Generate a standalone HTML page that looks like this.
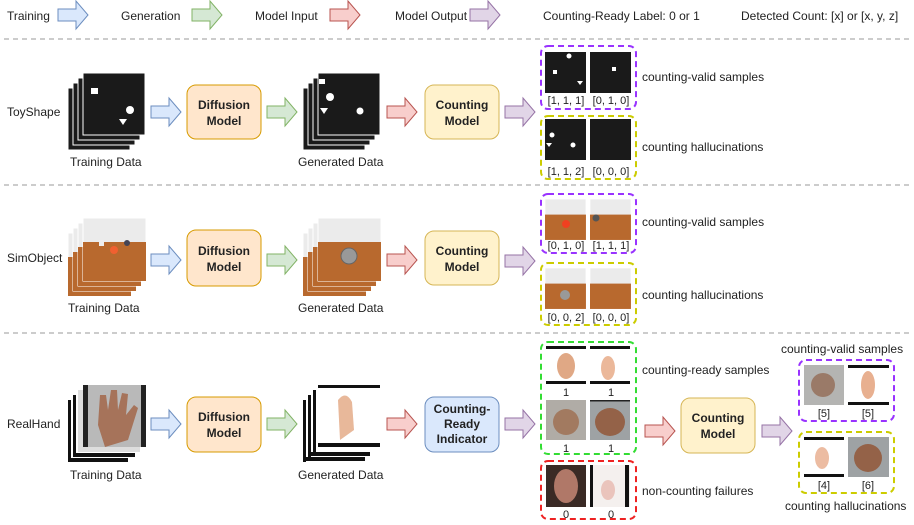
<!DOCTYPE html>
<html><head><meta charset="utf-8"><style>
html,body{margin:0;padding:0;background:#fff;}
svg{display:block;font-family:"Liberation Sans",sans-serif;}
.t{font-size:12px;fill:#222;}
.b{font-size:12px;font-weight:bold;fill:#222;text-anchor:middle;}
.c{font-size:11px;fill:#222;text-anchor:middle;}
</style></head><body>
<svg width="914" height="525" viewBox="0 0 914 525" xmlns="http://www.w3.org/2000/svg">
<defs>
<polygon id="ar" points="0,-6 18,-6 18,-14 30,0 18,14 18,6 0,6"/>
<g id="toy"><rect width="62" height="62" fill="#1a1a1a" stroke="#fff" stroke-width="1"/></g>
<g id="sim"><rect width="63" height="63" fill="#ebebeb" stroke="#fff"/><rect y="24" width="63" height="39" fill="#b8692e"/></g>
</defs>
<rect width="914" height="525" fill="#fff"/>
<!-- legend -->
<text class="t" x="7" y="20">Training</text>
<use href="#ar" x="58" y="15" fill="#dae8fc" stroke="#6c8ebf"/>
<text class="t" x="121" y="20">Generation</text>
<use href="#ar" x="192" y="15" fill="#d5e8d4" stroke="#82b366"/>
<text class="t" x="255" y="20">Model Input</text>
<use href="#ar" x="330" y="15" fill="#f8cecc" stroke="#b85450"/>
<text class="t" x="395" y="20">Model Output</text>
<use href="#ar" x="470" y="15" fill="#e1d5e7" stroke="#9673a6"/>
<text class="t" x="543" y="20">Counting-Ready Label: 0 or 1</text>
<text class="t" x="741" y="20">Detected Count: [x] or [x, y, z]</text>
<g stroke="#999" stroke-dasharray="5,4" stroke-width="1">
<line x1="4" y1="39" x2="910" y2="39"/><line x1="4" y1="185" x2="910" y2="185"/><line x1="4" y1="333" x2="910" y2="333"/>
</g>

<!-- Row 1 -->
<text class="t" x="7" y="116">ToyShape</text>
<use href="#toy" x="68" y="88"/><use href="#toy" x="73" y="83"/><use href="#toy" x="78" y="78"/><use href="#toy" x="83" y="73"/>
<rect x="91" y="88" width="7" height="6" fill="#fff"/><circle cx="130" cy="110" r="4" fill="#fff"/><polygon points="119,119 127,119 123,125" fill="#fff"/>
<text class="t" x="70" y="166">Training Data</text>
<use href="#ar" x="151" y="112" fill="#dae8fc" stroke="#6c8ebf"/>
<rect x="187" y="85" width="74" height="54" rx="9" fill="#ffe6cc" stroke="#d79b00"/>
<text class="b" x="224" y="109">Diffusion</text><text class="b" x="224" y="125">Model</text>
<use href="#ar" x="267" y="112" fill="#d5e8d4" stroke="#82b366"/>
<use href="#toy" x="303" y="88"/><use href="#toy" x="308" y="83"/><use href="#toy" x="313" y="78"/><use href="#toy" x="318" y="73"/>
<rect x="319" y="79" width="6" height="5" fill="#fff"/><circle cx="330" cy="97" r="4" fill="#fff"/><circle cx="360" cy="111" r="3.5" fill="#fff"/><polygon points="320,108 328,108 324,114" fill="#fff"/>
<text class="t" x="298" y="166">Generated Data</text>
<use href="#ar" x="387" y="112" fill="#f8cecc" stroke="#b85450"/>
<rect x="425" y="85" width="74" height="54" rx="9" fill="#fff2cc" stroke="#d6b656"/>
<text class="b" x="462" y="109">Counting</text><text class="b" x="462" y="125">Model</text>
<use href="#ar" x="505" y="112" fill="#e1d5e7" stroke="#9673a6"/>
<rect x="541" y="46" width="95" height="63" rx="7" fill="none" stroke="#9933ff" stroke-width="2" stroke-dasharray="6,4"/>
<rect x="545" y="52" width="41" height="41" fill="#1a1a1a"/><rect x="590" y="52" width="41" height="41" fill="#1a1a1a"/>
<circle cx="569" cy="56" r="2.5" fill="#fff"/><rect x="553" y="70" width="4" height="4" fill="#fff"/><polygon points="577,81 583,81 580,85" fill="#fff"/><rect x="612" y="67" width="4" height="4" fill="#fff"/>
<text class="c" x="566" y="104">[1, 1, 1]</text><text class="c" x="611" y="104">[0, 1, 0]</text>
<text class="t" x="642" y="81">counting-valid samples</text>
<rect x="541" y="116" width="95" height="63" rx="7" fill="none" stroke="#cccc00" stroke-width="2" stroke-dasharray="6,4"/>
<rect x="545" y="119" width="41" height="41" fill="#1a1a1a"/><rect x="590" y="119" width="41" height="41" fill="#1a1a1a"/>
<circle cx="552" cy="135" r="2.5" fill="#fff"/><circle cx="573" cy="145" r="2.5" fill="#fff"/><polygon points="546,143 552,143 549,147" fill="#fff"/>
<text class="c" x="566" y="175">[1, 1, 2]</text><text class="c" x="611" y="175">[0, 0, 0]</text>
<text class="t" x="642" y="151">counting hallucinations</text>

<!-- Row 2 -->
<text class="t" x="7" y="262">SimObject</text>
<use href="#sim" x="68" y="233"/><use href="#sim" x="73" y="228"/><use href="#sim" x="78" y="223"/><use href="#sim" x="83" y="218"/>
<circle cx="114" cy="250" r="4" fill="#f06030"/><circle cx="127" cy="243" r="3" fill="#445"/><rect x="99" y="240" width="5" height="6" fill="#eee"/>
<text class="t" x="68" y="312">Training Data</text>
<use href="#ar" x="151" y="260" fill="#dae8fc" stroke="#6c8ebf"/>
<rect x="187" y="230" width="74" height="56" rx="9" fill="#ffe6cc" stroke="#d79b00"/>
<text class="b" x="224" y="255">Diffusion</text><text class="b" x="224" y="271">Model</text>
<use href="#ar" x="267" y="260" fill="#d5e8d4" stroke="#82b366"/>
<use href="#sim" x="303" y="233"/><use href="#sim" x="308" y="228"/><use href="#sim" x="313" y="223"/><use href="#sim" x="318" y="218"/>
<circle cx="349" cy="256" r="8" fill="#999" stroke="#666"/>
<text class="t" x="298" y="312">Generated Data</text>
<use href="#ar" x="387" y="260" fill="#f8cecc" stroke="#b85450"/>
<rect x="425" y="231" width="74" height="54" rx="9" fill="#fff2cc" stroke="#d6b656"/>
<text class="b" x="462" y="255">Counting</text><text class="b" x="462" y="271">Model</text>
<use href="#ar" x="505" y="261" fill="#e1d5e7" stroke="#9673a6"/>
<rect x="541" y="194" width="95" height="59" rx="7" fill="none" stroke="#9933ff" stroke-width="2" stroke-dasharray="6,4"/>
<g transform="translate(545,199) scale(0.65)"><use href="#sim"/></g><g transform="translate(590,199) scale(0.65)"><use href="#sim"/></g>
<circle cx="566" cy="224" r="4" fill="#f04020"/><circle cx="596" cy="218" r="3.5" fill="#555"/>
<text class="c" x="566" y="249">[0, 1, 0]</text><text class="c" x="611" y="249">[1, 1, 1]</text>
<text class="t" x="642" y="226">counting-valid samples</text>
<rect x="541" y="263" width="95" height="62" rx="7" fill="none" stroke="#cccc00" stroke-width="2" stroke-dasharray="6,4"/>
<g transform="translate(545,268) scale(0.65)"><use href="#sim"/></g><g transform="translate(590,268) scale(0.65)"><use href="#sim"/></g>
<circle cx="565" cy="295" r="5" fill="#999"/>
<text class="c" x="566" y="321">[0, 0, 2]</text><text class="c" x="611" y="321">[0, 0, 0]</text>
<text class="t" x="642" y="299">counting hallucinations</text>

<!-- Row 3 -->
<text class="t" x="7" y="428">RealHand</text>
<rect x="68" y="400" width="62" height="62" fill="#fff" stroke="#000" stroke-width="0"/><rect x="68" y="400" width="3" height="62" fill="#111"/><rect x="68" y="458" width="60" height="4" fill="#111"/>
<rect x="73" y="395" width="62" height="62" fill="#fff"/><rect x="73" y="395" width="3" height="62" fill="#111"/><rect x="73" y="453" width="62" height="4" fill="#111"/>
<rect x="78" y="390" width="62" height="62" fill="#ddd"/>
<rect x="83" y="385" width="63" height="62" fill="#b9b9b9"/><rect x="83" y="385" width="5" height="62" fill="#222"/><rect x="141" y="385" width="5" height="62" fill="#222"/>
<path d="M100,395 L106,395 L108,410 L111,390 L117,390 L118,410 L122,393 L128,394 L126,415 L134,405 L138,408 L128,440 L105,447 L98,425 Z" fill="#a6735a"/>
<text class="t" x="70" y="479">Training Data</text>
<use href="#ar" x="151" y="424" fill="#dae8fc" stroke="#6c8ebf"/>
<rect x="187" y="397" width="74" height="55" rx="9" fill="#ffe6cc" stroke="#d79b00"/>
<text class="b" x="224" y="421">Diffusion</text><text class="b" x="224" y="437">Model</text>
<use href="#ar" x="267" y="424" fill="#d5e8d4" stroke="#82b366"/>
<rect x="303" y="400" width="62" height="62" fill="#fff"/><rect x="303" y="400" width="3" height="62" fill="#111"/><rect x="303" y="457" width="62" height="4" fill="#111"/>
<rect x="308" y="395" width="62" height="62" fill="#fff"/><rect x="308" y="395" width="3" height="62" fill="#111"/><rect x="308" y="452" width="62" height="4" fill="#111"/>
<rect x="313" y="390" width="62" height="62" fill="#fff"/><rect x="313" y="390" width="3" height="62" fill="#111"/>
<rect x="318" y="385" width="62" height="62" fill="#fff"/><rect x="318" y="385" width="62" height="3" fill="#111"/><rect x="318" y="443" width="62" height="4" fill="#111"/>
<path d="M338,400 Q346,390 352,402 L354,430 L340,440 Z" fill="#e8b89a"/>
<text class="t" x="298" y="479">Generated Data</text>
<use href="#ar" x="387" y="424" fill="#f8cecc" stroke="#b85450"/>
<rect x="425" y="397" width="74" height="55" rx="9" fill="#dae8fc" stroke="#6c8ebf"/>
<text class="b" x="462" y="413">Counting-</text><text class="b" x="462" y="428">Ready</text><text class="b" x="462" y="443">Indicator</text>
<use href="#ar" x="505" y="424" fill="#e1d5e7" stroke="#9673a6"/>
<rect x="541" y="342" width="95" height="112" rx="7" fill="none" stroke="#33dd33" stroke-width="2" stroke-dasharray="6,4"/>
<rect x="546" y="346" width="40" height="38" fill="#fff"/><rect x="546" y="346" width="40" height="3" fill="#111"/><rect x="546" y="381" width="40" height="3" fill="#111"/><ellipse cx="566" cy="366" rx="9" ry="13" fill="#e0a885"/>
<rect x="590" y="346" width="40" height="38" fill="#fff"/><rect x="590" y="346" width="40" height="3" fill="#111"/><rect x="590" y="381" width="40" height="3" fill="#111"/><ellipse cx="608" cy="368" rx="7" ry="12" fill="#ebb89a"/>
<text class="c" x="566" y="396">1</text><text class="c" x="611" y="396">1</text>
<rect x="546" y="400" width="40" height="40" fill="#b0aca6"/><ellipse cx="566" cy="422" rx="13" ry="13" fill="#a27a60"/>
<rect x="590" y="400" width="40" height="40" fill="#9ea2a4"/><rect x="590" y="400" width="40" height="1.5" fill="#222"/><ellipse cx="610" cy="422" rx="15" ry="14" fill="#946248"/>
<text class="c" x="566" y="452">1</text><text class="c" x="611" y="452">1</text>
<text class="t" x="642" y="374">counting-ready samples</text>
<rect x="541" y="461" width="95" height="58" rx="7" fill="none" stroke="#ee2222" stroke-width="2" stroke-dasharray="6,4"/>
<rect x="546" y="465" width="40" height="42" fill="#3a2a25"/><ellipse cx="566" cy="486" rx="12" ry="17" fill="#b07868"/>
<rect x="590" y="465" width="40" height="42" fill="#f4f0ee"/><rect x="590" y="465" width="3" height="42" fill="#111"/><rect x="625" y="465" width="4" height="42" fill="#111"/><ellipse cx="608" cy="490" rx="7" ry="10" fill="#eac4bc"/>
<text class="c" x="566" y="518">0</text><text class="c" x="611" y="518">0</text>
<text class="t" x="642" y="495">non-counting failures</text>
<use href="#ar" x="645" y="431" fill="#f8cecc" stroke="#b85450"/>
<rect x="681" y="398" width="74" height="55" rx="9" fill="#fff2cc" stroke="#d6b656"/>
<text class="b" x="718" y="422">Counting</text><text class="b" x="718" y="438">Model</text>
<use href="#ar" x="762" y="431" fill="#e1d5e7" stroke="#9673a6"/>
<text class="t" x="781" y="353">counting-valid samples</text>
<rect x="799" y="360" width="95" height="61" rx="7" fill="none" stroke="#9933ff" stroke-width="2" stroke-dasharray="6,4"/>
<rect x="804" y="365" width="40" height="40" fill="#b4b4b2"/><ellipse cx="823" cy="385" rx="12" ry="12" fill="#9a7a68"/>
<rect x="848" y="365" width="41" height="40" fill="#fff"/><rect x="848" y="365" width="41" height="3" fill="#111"/><rect x="848" y="402" width="41" height="3" fill="#111"/><ellipse cx="868" cy="385" rx="7" ry="14" fill="#e8b090"/>
<text class="c" x="824" y="417">[5]</text><text class="c" x="868" y="417">[5]</text>
<rect x="799" y="432" width="95" height="61" rx="7" fill="none" stroke="#cccc00" stroke-width="2" stroke-dasharray="6,4"/>
<rect x="804" y="437" width="40" height="40" fill="#fff"/><rect x="804" y="437" width="40" height="3" fill="#111"/><rect x="804" y="474" width="40" height="3" fill="#111"/><ellipse cx="822" cy="458" rx="7" ry="11" fill="#ecbca2"/>
<rect x="848" y="437" width="41" height="40" fill="#9ea2a4"/><ellipse cx="868" cy="458" rx="14" ry="14" fill="#946248"/>
<text class="c" x="824" y="489">[4]</text><text class="c" x="868" y="489">[6]</text>
<text class="t" x="785" y="510">counting hallucinations</text>
</svg>
</body></html>
